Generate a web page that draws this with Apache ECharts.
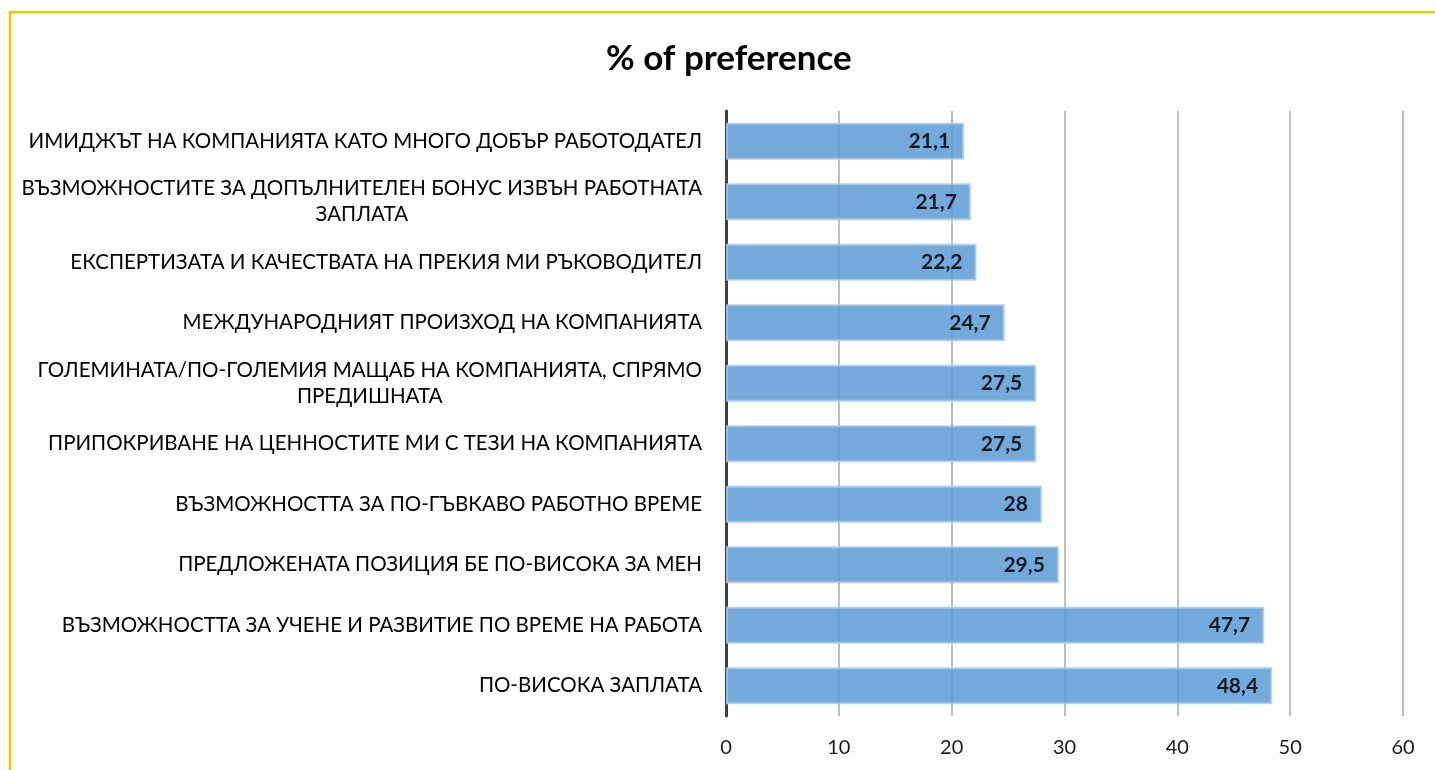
<!DOCTYPE html>
<html>
<head>
<meta charset="utf-8">
<script src="https://cdn.jsdelivr.net/npm/echarts@6/dist/echarts.min.js"></script>
<style>
  html, body { margin: 0; padding: 0; background: #fff; }
  #main { width: 1435px; height: 770px; }
</style>
</head>
<body>
<div id="main"></div>
<script>
// категории отгоре надолу
var categories = [
    'ИМИДЖЪТ НА КОМПАНИЯТА КАТО МНОГО ДОБЪР РАБОТОДАТЕЛ',
    'ВЪЗМОЖНОСТИТЕ ЗА ДОПЪЛНИТЕЛЕН БОНУС ИЗВЪН РАБОТНАТА ЗАПЛАТА',
    'ЕКСПЕРТИЗАТА И КАЧЕСТВАТА НА ПРЕКИЯ МИ РЪКОВОДИТЕЛ',
    'МЕЖДУНАРОДНИЯТ ПРОИЗХОД НА КОМПАНИЯТА',
    'ГОЛЕМИНАТА/ПО-ГОЛЕМИЯ МАЩАБ НА КОМПАНИЯТА, СПРЯМО ПРЕДИШНАТА',
    'ПРИПОКРИВАНЕ НА ЦЕННОСТИТЕ МИ С ТЕЗИ НА КОМПАНИЯТА',
    'ВЪЗМОЖНОСТТА ЗА ПО-ГЪВКАВО РАБОТНО ВРЕМЕ',
    'ПРЕДЛОЖЕНАТА ПОЗИЦИЯ БЕ ПО-ВИСОКА ЗА МЕН',
    'ВЪЗМОЖНОСТТА ЗА УЧЕНЕ И РАЗВИТИЕ ПО ВРЕМЕ НА РАБОТА',
    'ПО-ВИСОКА ЗАПЛАТА'
];
var preference = [21.1, 21.7, 22.2, 24.7, 27.5, 27.5, 28, 29.5, 47.7, 48.4];
var xMin = 0, xMax = 60, xStep = 10;

var LABEL_FONT = '20.5px Lato';
var LABEL_WIDTH = 690;

// пренасяне на думите, редовете се центрират един спрямо друг
var ctx = document.createElement('canvas').getContext('2d');
ctx.font = LABEL_FONT;
function wrapLabel(text) {
    var words = text.split(' ');
    var lines = [];
    var cur = '';
    for (var i = 0; i < words.length; i++) {
        var test = cur ? cur + ' ' + words[i] : words[i];
        if (cur && ctx.measureText(test).width > LABEL_WIDTH) {
            lines.push(cur);
            cur = words[i];
        } else {
            cur = test;
        }
    }
    lines.push(cur);
    return lines.map(function (l) { return '{c|' + l + '}'; }).join('\n');
}

var myChart = echarts.init(document.getElementById('main'));

var option = {
    backgroundColor: '#fff',
    animation: false,
    textStyle: { fontFamily: 'Lato' },
    title: {
        text: '% of preference',
        left: 601,
        top: 36,
        textStyle: { fontSize: 35, fontWeight: 'bold', color: '#000', fontFamily: 'Lato' }
    },
    graphic: [{
        type: 'rect',
        shape: { x: 10, y: 12, width: 1500, height: 800 },
        style: { fill: 'none', stroke: '#FFC000', lineWidth: 2.5 },
        silent: true
    }],
    grid: { left: 726, right: 32, top: 111, bottom: 54, containLabel: false },
    xAxis: {
        type: 'value',
        min: xMin,
        max: xMax,
        interval: xStep,
        axisLine: { show: false },
        axisTick: { show: false },
        axisLabel: { fontSize: 20, color: '#1a1a1a', margin: 22, fontFamily: 'Lato' },
        splitLine: { lineStyle: { color: '#bfbfbf', width: 2 } }
    },
    yAxis: {
        type: 'category',
        inverse: true,
        data: categories,
        axisLine: { lineStyle: { color: '#404040', width: 3 } },
        axisTick: { show: false },
        axisLabel: {
            margin: 24,
            color: '#000',
            formatter: wrapLabel,
            rich: { c: { align: 'center', fontSize: 20.5, lineHeight: 26, color: '#000', fontFamily: 'Lato' } }
        }
    },
    series: [{
        type: 'bar',
        data: preference,
        barWidth: 37,
        itemStyle: {
            color: '#5b9bd5',
            opacity: 0.85,
            borderColor: '#a9c9ec',
            borderWidth: 2
        },
        label: {
            show: true,
            position: 'insideRight',
            distance: 14,
            color: '#000',
            fontSize: 21,
            fontWeight: 'bold',
            fontFamily: 'Lato',
            formatter: function (p) { return String(p.value).replace('.', ','); }
        }
    }]
};

myChart.setOption(option);
</script>
</body>
</html>
